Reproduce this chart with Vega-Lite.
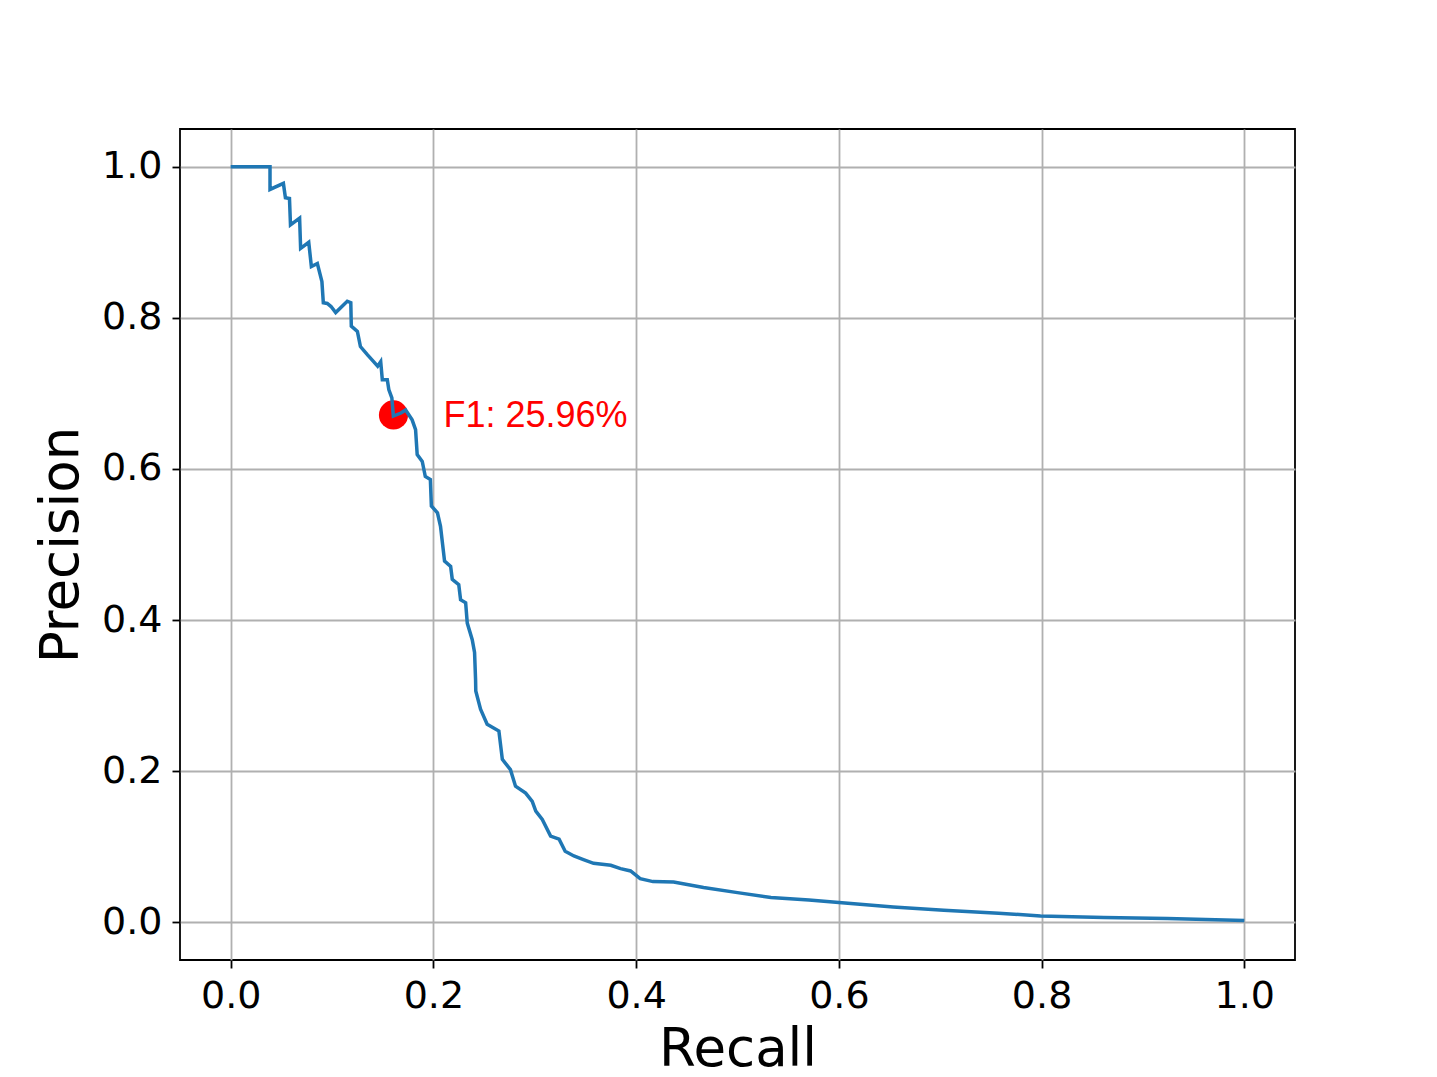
{
  "$schema": "https://vega.github.io/schema/vega-lite/v6.json",
  "autosize": {"type": "none"},
  "padding": {"left": 180, "top": 129, "right": 142, "bottom": 117},
  "width": 1115,
  "height": 831,
  "background": "white",
  "config": {
    "view": {"stroke": "black", "strokeWidth": 1.8},
    "axis": {
      "domain": false,
      "grid": true,
      "gridColor": "#b0b0b0",
      "gridWidth": 1.8,
      "tickColor": "black",
      "tickWidth": 1.8,
      "tickSize": 8,
      "labelFont": "DejaVu Sans",
      "labelFontSize": 38,
      "labelColor": "black",
      "titleFont": "DejaVu Sans",
      "titleFontSize": 53,
      "titleFontWeight": "normal",
      "titleColor": "black"
    }
  },
  "datasets": {
    "pr": [
      {"i": 0, "recall": 0.0, "precision": 1.0},
      {"i": 1, "recall": 0.0388, "precision": 1.0},
      {"i": 2, "recall": 0.0388, "precision": 0.970},
      {"i": 3, "recall": 0.052, "precision": 0.978},
      {"i": 4, "recall": 0.054, "precision": 0.959},
      {"i": 5, "recall": 0.058, "precision": 0.958},
      {"i": 6, "recall": 0.059, "precision": 0.923},
      {"i": 7, "recall": 0.068, "precision": 0.932},
      {"i": 8, "recall": 0.069, "precision": 0.892},
      {"i": 9, "recall": 0.077, "precision": 0.900},
      {"i": 10, "recall": 0.0796, "precision": 0.868},
      {"i": 11, "recall": 0.0855, "precision": 0.872},
      {"i": 12, "recall": 0.090, "precision": 0.848},
      {"i": 13, "recall": 0.0914, "precision": 0.820},
      {"i": 14, "recall": 0.0953, "precision": 0.819},
      {"i": 15, "recall": 0.099, "precision": 0.815},
      {"i": 16, "recall": 0.1036, "precision": 0.807},
      {"i": 17, "recall": 0.115, "precision": 0.822},
      {"i": 18, "recall": 0.1185, "precision": 0.820},
      {"i": 19, "recall": 0.119, "precision": 0.789},
      {"i": 20, "recall": 0.125, "precision": 0.782},
      {"i": 21, "recall": 0.128, "precision": 0.762},
      {"i": 22, "recall": 0.135, "precision": 0.751},
      {"i": 23, "recall": 0.141, "precision": 0.742},
      {"i": 24, "recall": 0.145, "precision": 0.736},
      {"i": 25, "recall": 0.148, "precision": 0.742},
      {"i": 26, "recall": 0.1496, "precision": 0.718},
      {"i": 27, "recall": 0.1545, "precision": 0.718},
      {"i": 28, "recall": 0.156, "precision": 0.705},
      {"i": 29, "recall": 0.159, "precision": 0.694},
      {"i": 30, "recall": 0.1605, "precision": 0.670},
      {"i": 31, "recall": 0.168, "precision": 0.674},
      {"i": 32, "recall": 0.1726, "precision": 0.678},
      {"i": 33, "recall": 0.179, "precision": 0.665},
      {"i": 34, "recall": 0.1824, "precision": 0.652},
      {"i": 35, "recall": 0.184, "precision": 0.619},
      {"i": 36, "recall": 0.189, "precision": 0.610},
      {"i": 37, "recall": 0.192, "precision": 0.590},
      {"i": 38, "recall": 0.197, "precision": 0.586},
      {"i": 39, "recall": 0.198, "precision": 0.551},
      {"i": 40, "recall": 0.204, "precision": 0.542},
      {"i": 41, "recall": 0.207, "precision": 0.524},
      {"i": 42, "recall": 0.211, "precision": 0.478},
      {"i": 43, "recall": 0.217, "precision": 0.471},
      {"i": 44, "recall": 0.2186, "precision": 0.454},
      {"i": 45, "recall": 0.225, "precision": 0.447},
      {"i": 46, "recall": 0.2268, "precision": 0.427},
      {"i": 47, "recall": 0.2318, "precision": 0.423},
      {"i": 48, "recall": 0.2334, "precision": 0.396},
      {"i": 49, "recall": 0.2383, "precision": 0.374},
      {"i": 50, "recall": 0.2406, "precision": 0.357},
      {"i": 51, "recall": 0.2416, "precision": 0.321},
      {"i": 52, "recall": 0.2418, "precision": 0.306},
      {"i": 53, "recall": 0.2465, "precision": 0.282},
      {"i": 54, "recall": 0.253, "precision": 0.262},
      {"i": 55, "recall": 0.2646, "precision": 0.253},
      {"i": 56, "recall": 0.268, "precision": 0.2156},
      {"i": 57, "recall": 0.276, "precision": 0.202},
      {"i": 58, "recall": 0.281, "precision": 0.180},
      {"i": 59, "recall": 0.291, "precision": 0.171},
      {"i": 60, "recall": 0.2975, "precision": 0.160},
      {"i": 61, "recall": 0.301, "precision": 0.147},
      {"i": 62, "recall": 0.3074, "precision": 0.136},
      {"i": 63, "recall": 0.3156, "precision": 0.114},
      {"i": 64, "recall": 0.324, "precision": 0.110},
      {"i": 65, "recall": 0.330, "precision": 0.094},
      {"i": 66, "recall": 0.3386, "precision": 0.0877},
      {"i": 67, "recall": 0.348, "precision": 0.083},
      {"i": 68, "recall": 0.358, "precision": 0.078},
      {"i": 69, "recall": 0.375, "precision": 0.0754},
      {"i": 70, "recall": 0.3846, "precision": 0.0709},
      {"i": 71, "recall": 0.3945, "precision": 0.0679},
      {"i": 72, "recall": 0.404, "precision": 0.0577},
      {"i": 73, "recall": 0.4166, "precision": 0.0538},
      {"i": 74, "recall": 0.437, "precision": 0.0533},
      {"i": 75, "recall": 0.4665, "precision": 0.0459},
      {"i": 76, "recall": 0.500, "precision": 0.0392},
      {"i": 77, "recall": 0.533, "precision": 0.0326},
      {"i": 78, "recall": 0.5705, "precision": 0.0294},
      {"i": 79, "recall": 0.600, "precision": 0.026},
      {"i": 80, "recall": 0.6536, "precision": 0.0203},
      {"i": 81, "recall": 0.7035, "precision": 0.0158},
      {"i": 82, "recall": 0.7576, "precision": 0.0119},
      {"i": 83, "recall": 0.799, "precision": 0.0084},
      {"i": 84, "recall": 0.8615, "precision": 0.0062},
      {"i": 85, "recall": 0.924, "precision": 0.0048},
      {"i": 86, "recall": 1.0, "precision": 0.0022}
    ],
    "f1": [
      {"recall": 0.1606, "precision": 0.6715, "label": "F1: 25.96%"}
    ]
  },
  "layer": [
    {
      "data": {"name": "f1"},
      "mark": {"type": "point", "shape": "circle", "filled": true, "color": "#ff0000", "opacity": 1, "size": 850},
      "encoding": {
        "x": {
          "field": "recall", "type": "quantitative",
          "scale": {"domain": [-0.05, 1.05], "nice": false, "zero": false},
          "axis": {"values": [0, 0.2, 0.4, 0.6, 0.8, 1.0], "format": ".1f", "title": "Recall", "labelPadding": 9, "titlePadding": 8}
        },
        "y": {
          "field": "precision", "type": "quantitative",
          "scale": {"domain": [-0.05, 1.05], "nice": false, "zero": false},
          "axis": {"values": [0, 0.2, 0.4, 0.6, 0.8, 1.0], "format": ".1f", "title": "Precision", "labelPadding": 10, "titlePadding": 13}
        }
      }
    },
    {
      "data": {"name": "pr"},
      "mark": {"type": "line", "color": "#1f77b4", "strokeWidth": 3.5, "clip": true},
      "encoding": {
        "x": {"field": "recall", "type": "quantitative"},
        "y": {"field": "precision", "type": "quantitative"},
        "order": {"field": "i", "type": "quantitative"}
      }
    },
    {
      "data": {"name": "f1"},
      "mark": {"type": "text", "color": "#ff0000", "font": "Liberation Sans", "fontSize": 36, "align": "left", "baseline": "middle", "dx": 50, "dy": 1},
      "encoding": {
        "x": {"field": "recall", "type": "quantitative"},
        "y": {"field": "precision", "type": "quantitative"},
        "text": {"field": "label"}
      }
    }
  ]
}
